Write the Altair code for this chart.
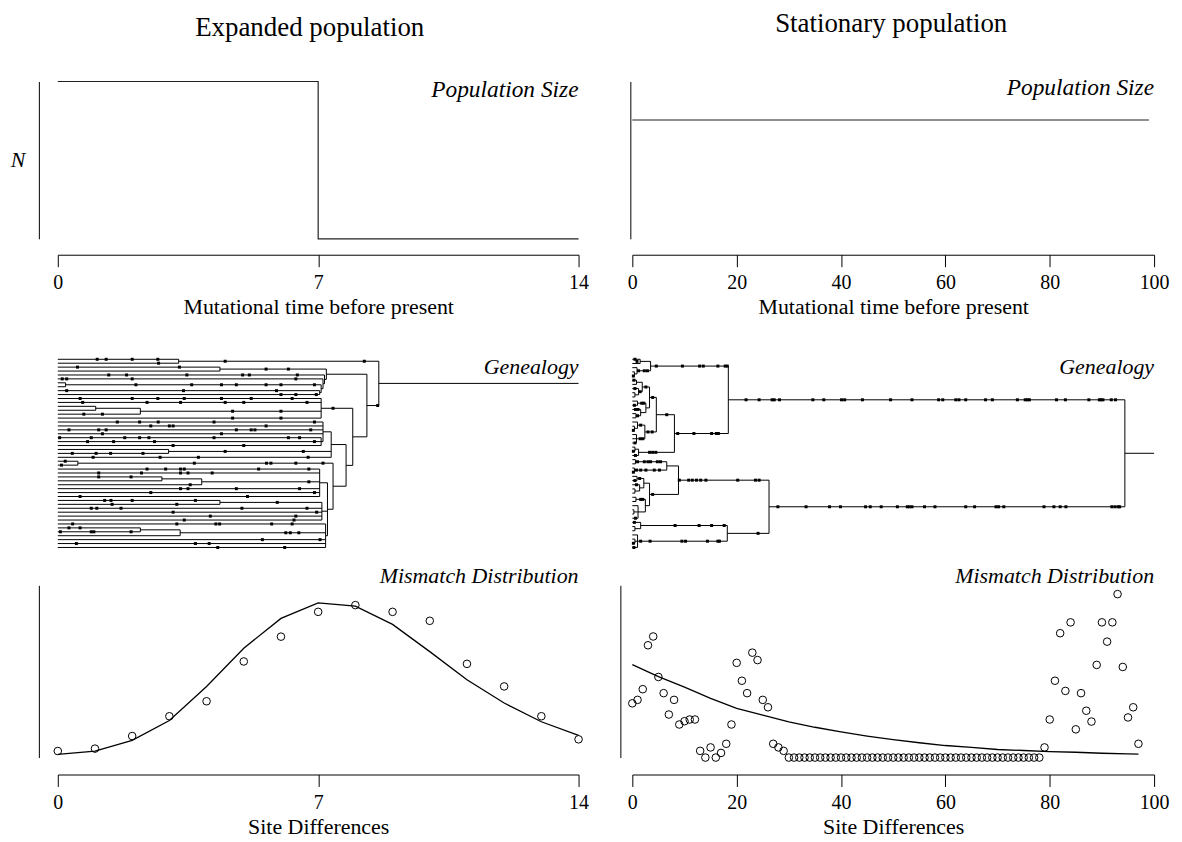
import altair as alt
import pandas as pd

SERIF = "Liberation Serif"

# ---------------- data ----------------
# population size panels (relative size, axis spans 0..1)
exp_time = [0, 7, 7, 14]
exp_size = [1.0, 1.0, 0.0, 0.0]
stat_time = [0, 99]
stat_size = [0.755, 0.755]

# mismatch distributions (relative frequency, y axis spans 0..1)
exp_diff = list(range(15))
exp_observed = [0.038, 0.052, 0.125, 0.240, 0.327, 0.558, 0.702, 0.846,
                0.885, 0.846, 0.794, 0.544, 0.413, 0.240, 0.106]
exp_expected = [0.019, 0.038, 0.100, 0.215, 0.413, 0.635, 0.808, 0.898,
                0.879, 0.773, 0.615, 0.452, 0.317, 0.208, 0.129]

stat_diff = list(range(98))
stat_observed = [0.315, 0.335, 0.397, 0.652, 0.703, 0.468, 0.374, 0.250, 0.335, 0.192,
                 0.211, 0.221, 0.221, 0.039, 0.000, 0.059, 0.000, 0.027, 0.080, 0.192,
                 0.550, 0.446, 0.374, 0.609, 0.566, 0.335, 0.292, 0.080, 0.059, 0.039] + \
                [0.0] * 49 + \
                [0.059, 0.221, 0.446, 0.722, 0.387, 0.785, 0.164, 0.374, 0.272, 0.209,
                 0.538, 0.785, 0.673, 0.785, 0.949, 0.526, 0.233, 0.292, 0.080]
stat_exp_diff = [0, 5, 10, 15, 20, 25, 30, 35, 40, 45, 50, 55, 60, 65, 70, 75, 80, 85, 90, 95, 97]
stat_expected = [0.540, 0.470, 0.409, 0.344, 0.286, 0.247, 0.207, 0.176, 0.149, 0.125, 0.104,
                 0.086, 0.070, 0.059, 0.047, 0.041, 0.035, 0.031, 0.025, 0.022, 0.020]

# genealogies: node = [height, mutation times on branch above node, *children]; tip = [0, muts]
def T(*m):
    return [0, list(m)]

exp_tree = [8.63, [],
    [3.25, [4.5, 8.24], T(1.06, 1.30, 2.0, 2.69), T(2.71)],
    [8.31, [8.6],
        [7.22, [],
            [4.36, [5.6, 6.2], T(0.53, 3.27), T()],
            [7.17, [], T(1.37, 1.85, 3.47, 4.97, 5.15, 6.44),
                [7.13, [], T(0.12, 0.24, 2.0, 6.4),
                    [7.08, [], [0.21, [2.1, 3.6, 4.4, 4.8, 5.6, 6.0, 6.9], T(), T()],
                        [7.04, [], T(0.24, 3.38, 5.88), T(6.0, 6.4, 6.95)]]]]],
        [7.93, [],
            [7.08, [7.4], T(0.6, 2.0, 2.69, 3.4, 4.4, 5.2, 6.3),
                T(0.67, 2.4, 3.3, 4.5, 5.0, 6.7),
                [2.22, [4.7, 6.0], [1.02, [], T(), T()], T(0.7, 1.2)],
                T(4.7, 6.0)],
            [7.75, [],
                [7.35, [],
                    [7.13, [], T(1.6, 2.2, 2.7, 4.2, 6.9), T(2.5, 3.0, 3.1, 5.6),
                        T(0.3, 1.1, 1.3, 4.8, 5.2, 5.3, 6.8), T(1.2, 4.4),
                        [7.08, [], T(0.05, 0.9, 1.8, 2.2, 2.45, 4.2, 6.2, 6.5),
                            T(0.8, 1.5, 2.6, 6.9), T(3.1, 5.0)]],
                    [2.98, [4.5, 6.6], T(), T(0.39, 1.03, 1.42, 2.29)],
                    T(0.95, 2.75, 3.78, 6.73)],
                [7.4, [],
                    [0.54, [3.67, 5.61, 5.73, 6.4, 7.13], T(0.2), T(0.1)],
                    [7.25, [],
                        [7.04, [], T(2.4, 2.9, 3.3, 3.4, 5.4, 6.75), T(1.1, 2.25, 3.3, 3.5, 4.15),
                            [3.87, [6.75], [2.8, [], T(1.1, 1.97), T()], T(3.56)],
                            T(3.3, 3.5, 4.8, 6.5), T(2.5, 6.9), T(0.6, 5.1)],
                        [7.1, [], [4.36, [5.9], T(1.26, 1.43, 2.0, 3.7), T(1.46, 3.2)],
                            T(0.9, 1.05, 1.7, 4.95, 6.7), T(3.1, 6.96), T(4.1, 6.4), T(3.4, 6.35)],
                        [7.2, [], T(0.4, 3.2, 4.25, 4.35, 5.75, 6.3),
                            [3.29, [6.13, 6.25, 6.48], [2.22, [], T(0.3, 0.6), T(0.07, 0.9, 0.97, 1.97)], T()],
                            T(5.5, 7.05), T(0.5, 3.7, 4.07), T(4.3, 6.1)]]]]]]]

stat_tree = [94.4, [],
    [18.4, [21.8, 24.3, 26.8, 27.2, 28.2, 34.6, 36.7, 40.1, 40.7, 44.1, 49.5, 53.6, 58.7, 59.5,
            62.0, 62.6, 63.9, 67.7, 69.0, 73.8, 75.3, 75.7, 76.1, 81.3, 83.0, 87.5, 89.5, 89.8,
            90.2, 91.8, 92.6],
        [3.5, [4.6, 9.6, 12.9, 13.6, 16.4, 17.8, 18.2],
            [1.5, [0.9], T(0.5), T()],
            [0.9, [1.2, 2.3, 2.9], T(), [0.4, [], T(), T(0.2)]]],
        [8.07, [8.7, 11.8, 15.2, 16.1, 16.5],
            [4.6, [6.6],
                [3.3, [3.9],
                    [1.9, [2.6], [0.8, [], T(0.3), T()], [1.2, [1.5], T(0.5), [0.5, [], T(), T()]]],
                    [2.6, [], [1.0, [1.8, 2.2], T(), T(0.4)],
                        [1.6, [], T(0.6, 1.1), [0.7, [1.0], T(), T()]]]],
                [2.4, [3.0, 3.8],
                    [1.0, [1.6], T(), [0.4, [], T(), T(0.2)]],
                    [0.8, [1.5, 2.0], T(), T(), T(0.5)]]],
            [1.2, [3.3, 3.9, 4.5], [0.5, [], T(), T(0.2)], T(0.6)]]],
    [26.2, [27.9, 33.3, 37.8, 39.9, 44.7, 45.6, 47.7, 50.8, 52.7, 53.1, 53.6, 56.0, 58.0, 63.9,
            65.6, 69.7, 70.2, 71.2, 78.9, 80.8, 82.0, 83.1, 91.9, 92.5, 93.1, 93.4],
        [8.85, [9.0, 10.8, 11.5, 12.3, 13.1, 14.1, 20.2, 23.6, 24.3],
            [6.6, [],
                [0.6, [1.0, 2.3, 3.0, 3.5, 4.8, 5.4], T(), T()],
                [0.4, [0.8, 1.6, 2.6, 4.2, 5.2], T(), T(0.2)]],
            [3.3, [3.9],
                [2.2, [], [0.9, [1.4], T(), T(0.5)], [1.4, [], T(0.8), [0.5, [], T(), T()]]],
                [2.5, [], [0.7, [1.6, 2.0], T(), T()],
                    [1.1, [], T(), [0.3, [], T(), T()], T(0.6)]]]],
        [18.2, [24.1],
            [1.6, [8.2, 12.8, 15.2, 17.6], T(0.4), [0.5, [], T(), T()]],
            [1.0, [1.6, 3.4, 9.5, 10.2, 14.4, 16.4, 16.7], T(), [0.5, [], T(), T(0.2)], T(0.3)]]]]


def tree_frames(tree, xmax):
    segs, muts, count = [], [], [0]

    def walk(node):
        kids = node[2:]
        if not kids:
            y = count[0]
            count[0] += 1
            return y
        ys = [walk(k) for k in kids]
        for k, yk in zip(kids, ys):
            segs.append({"x": k[0], "x2": node[0], "y": yk, "y2": yk})
            for t in k[1]:
                muts.append({"x": t, "y": yk})
        segs.append({"x": node[0], "x2": node[0], "y": ys[0], "y2": ys[-1]})
        return (ys[0] + ys[-1]) / 2

    yr = walk(tree)
    segs.append({"x": tree[0], "x2": xmax, "y": yr, "y2": yr})
    return pd.DataFrame(segs), pd.DataFrame(muts), count[0]


# ---------------- layout ----------------
WL, WR = 523, 524
H1, H2, H3 = 158, 348, 173
TIP_TOP, TIP_BOTTOM = 121, 310   # tip rows inside genealogy panel (pixels)

x_axis_base = dict(grid=False, tickSize=12, labelPadding=6, titlePadding=4,
                   labelFlush=False, labelFontSize=20, titleFontSize=22)


def label(text, x, y, size=22, italic=True, align="right"):
    return alt.Chart(pd.DataFrame({"t": [text]})).mark_text(
        font=SERIF, fontSize=size, fontStyle="italic" if italic else "normal",
        align=align, baseline="middle", color="black"
    ).encode(x=alt.value(x), y=alt.value(y), text="t:N")


def yaxis(offset):
    return alt.Axis(offset=offset, ticks=False, labels=False, title=None, grid=False)


# row 1: population size
df1 = pd.DataFrame({"t": exp_time, "n": exp_size, "o": range(4)})
p1 = alt.Chart(df1).mark_line(color="#222", strokeWidth=1.2).encode(
    x=alt.X("t:Q", scale=alt.Scale(domain=[0, 14], nice=False),
            axis=alt.Axis(values=[0, 7, 14], title="Mutational time before present",
                          offset=16, **x_axis_base)),
    y=alt.Y("n:Q", scale=alt.Scale(domain=[0, 1], nice=False), axis=yaxis(19)),
    order="o:Q")
top_left = alt.layer(
    p1,
    label("Population Size", WL, 9, size=23.5),
    label("N", -40, 79, size=22, align="center"),
    label("Expanded population", 253, -54, size=27, italic=False, align="center"),
).properties(width=WL, height=H1)

df2 = pd.DataFrame({"t": stat_time, "n": stat_size})
p2 = alt.Chart(df2).mark_line(color="#222", strokeWidth=1.2).encode(
    x=alt.X("t:Q", scale=alt.Scale(domain=[0, 100], nice=False),
            axis=alt.Axis(values=[0, 20, 40, 60, 80, 100], title="Mutational time before present",
                          offset=16, **x_axis_base)),
    y=alt.Y("n:Q", scale=alt.Scale(domain=[0, 1], nice=False), axis=yaxis(2)))
top_right = alt.layer(
    p2,
    label("Population Size", WR, 7, size=23.5),
    label("Stationary population", 260, -58, size=27, italic=False, align="center"),
).properties(width=WR, height=H1)


# row 2: genealogies
def genealogy(tree, xmax, width):
    segs, muts, n = tree_frames(tree, xmax)
    step = (TIP_BOTTOM - TIP_TOP) / (n - 1)
    d0 = -TIP_TOP / step
    d1 = d0 + H2 / step
    xs = alt.Scale(domain=[0, xmax], nice=False)
    ys = alt.Scale(domain=[d0, d1], nice=False, zero=False, reverse=True)
    lines = alt.Chart(segs).mark_rule(color="black", strokeWidth=1).encode(
        x=alt.X("x:Q", scale=xs, axis=None), x2="x2:Q",
        y=alt.Y("y:Q", scale=ys, axis=None), y2="y2:Q")
    dots = alt.Chart(muts).mark_square(color="black", size=9, opacity=1).encode(
        x=alt.X("x:Q", scale=xs, axis=None), y=alt.Y("y:Q", scale=ys, axis=None))
    return alt.layer(lines, dots, label("Genealogy", width, 129)).properties(width=width, height=H2)


mid_left = genealogy(exp_tree, 14, WL)
mid_right = genealogy(stat_tree, 100, WR)


# row 3: mismatch distributions
def mismatch(xd, obs, exd, exp, xmax, ticks, width, yoff):
    xs = alt.Scale(domain=[0, xmax], nice=False)
    ys = alt.Scale(domain=[0, 1], nice=False)
    xa = alt.Axis(values=ticks, title="Site Differences", offset=17, **x_axis_base)
    pts = alt.Chart(pd.DataFrame({"d": xd, "f": obs})).mark_point(
        shape="circle", filled=False, color="black", size=58, strokeWidth=1, opacity=1).encode(
        x=alt.X("d:Q", scale=xs, axis=xa), y=alt.Y("f:Q", scale=ys, axis=yaxis(yoff)))
    crv = alt.Chart(pd.DataFrame({"d": exd, "f": exp})).mark_line(
        color="black", strokeWidth=1.3).encode(
        x=alt.X("d:Q", scale=xs, axis=xa), y=alt.Y("f:Q", scale=ys, axis=yaxis(yoff)))
    return alt.layer(crv, pts, label("Mismatch Distribution", width, -9)).properties(
        width=width, height=H3)


bot_left = mismatch(exp_diff, exp_observed, exp_diff, exp_expected, 14, [0, 7, 14], WL, 19)
bot_right = mismatch(stat_diff, stat_observed, stat_exp_diff, stat_expected, 100,
                     [0, 20, 40, 60, 80, 100], WR, 12)

chart = alt.concat(
    top_left, top_right, mid_left, mid_right, bot_left, bot_right,
    columns=2, spacing={"row": 0, "column": 54}, bounds="flush", align="each",
    padding={"left": 2, "top": 0, "right": 5, "bottom": 5},
).configure_view(stroke=None).configure_axis(
    domainColor="black", tickColor="black", labelColor="black", titleColor="black",
    labelFont=SERIF, titleFont=SERIF, titleFontWeight="normal", domainWidth=1, tickWidth=1,
)

chart.save("out.html", embed_options={"renderer": "svg", "actions": False})
